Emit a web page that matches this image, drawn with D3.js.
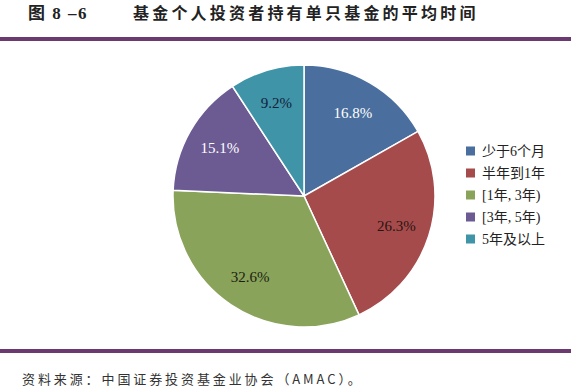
<!DOCTYPE html>
<html>
<head>
<meta charset="utf-8">
<script src="https://cdn.jsdelivr.net/npm/d3@7"></script>
<style>
  body { margin: 0; background: #fff; }
  svg { display: block; }
</style>
</head>
<body>
<svg id="chart" width="571" height="392"></svg>
<script>
// data
const categories = ['少于6个月', '半年到1年', '[1年, 3年)', '[3年, 5年)', '5年及以上'];
const shares = [16.8, 26.3, 32.6, 15.1, 9.2];
const sliceColors = ['#4a6f9e', '#a64b4b', '#8aa35b', '#6c5a93', '#3f94a8'];
const labelColors = ['#ffffff', '#2a1414', '#1a1f10', '#ffffff', '#14203a'];

const titleNum = '图 8 –6';
const titleText = '基金个人投资者持有单只基金的平均时间';
const sourceText = '资料来源：中国证券投资基金业协会（AMAC）。';

const svg = d3.select('#chart');
const cjk = '"Noto Sans CJK SC", "Noto Sans", sans-serif';
const serifMix = '"Liberation Serif", "Noto Sans CJK SC", serif';

// header
svg.append('text')
  .attr('x', 28).attr('y', 19)
  .style('font-family', serifMix).style('font-size', '17px').style('font-weight', 'bold')
  .style('letter-spacing', '1.5px')
  .attr('fill', '#222')
  .text(titleNum);

svg.append('text')
  .attr('x', 133).attr('y', 19)
  .style('font-family', cjk).style('font-size', '16px').style('font-weight', 'bold')
  .style('letter-spacing', '3.2px')
  .attr('fill', '#222')
  .text(titleText);

svg.append('rect').attr('x', 0).attr('y', 37).attr('width', 571).attr('height', 4).attr('fill', '#6a3a70');
svg.append('rect').attr('x', 0).attr('y', 349).attr('width', 571).attr('height', 4).attr('fill', '#6a3a70');

// footer
svg.append('text')
  .attr('x', 22).attr('y', 384)
  .style('font-family', '"Noto Sans CJK SC", serif').style('font-size', '13px')
  .style('letter-spacing', '2.9px')
  .attr('fill', '#333')
  .text(sourceText);

// pie
const cx = 304, cy = 196, r = 131;
const pie = d3.pie().sort(null).value(d => d);
const arcs = pie(shares);
const arc = d3.arc().innerRadius(0).outerRadius(r);
const labelArc = d3.arc().innerRadius(r * 0.74).outerRadius(r * 0.74);

const g = svg.append('g').attr('transform', `translate(${cx},${cy})`);

g.selectAll('path.slice')
  .data(arcs)
  .enter()
  .append('path')
  .attr('class', 'slice')
  .attr('d', arc)
  .attr('fill', (d, i) => sliceColors[i])
  .attr('stroke', '#fff')
  .attr('stroke-width', 1.5);

g.selectAll('text.pct')
  .data(arcs)
  .enter()
  .append('text')
  .attr('class', 'pct')
  .attr('transform', d => `translate(${labelArc.centroid(d)})`)
  .attr('text-anchor', 'middle')
  .attr('dy', '0.35em')
  .style('font-family', '"Liberation Serif", serif')
  .style('font-size', '15px')
  .attr('fill', (d, i) => labelColors[i])
  .text(d => d.data.toFixed(1) + '%');

// legend
const legendY = d3.scalePoint().domain(categories).range([151, 239]);
const legend = svg.append('g');
const rows = legend.selectAll('g.row')
  .data(categories)
  .enter()
  .append('g')
  .attr('class', 'row')
  .attr('transform', d => `translate(466,${legendY(d)})`);

rows.append('rect')
  .attr('x', 0).attr('y', -4.5)
  .attr('width', 9).attr('height', 9)
  .attr('fill', (d, i) => sliceColors[i]);

rows.append('text')
  .attr('x', 16).attr('y', 0)
  .attr('dy', '0.36em')
  .style('font-family', serifMix)
  .style('font-size', '14px')
  .attr('fill', '#222')
  .text(d => d);
</script>
</body>
</html>
